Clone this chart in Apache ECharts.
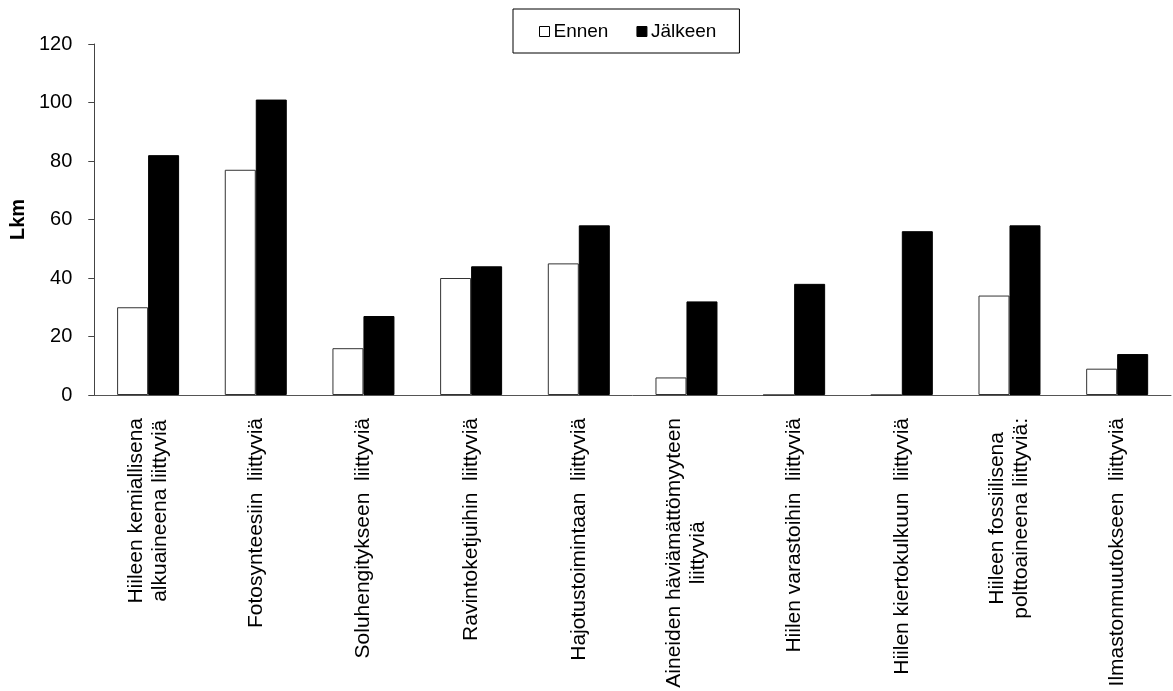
<!DOCTYPE html>
<html>
<head>
<meta charset="utf-8">
<script src="https://cdn.jsdelivr.net/npm/echarts@6/dist/echarts.min.js"></script>
<style>
html,body{margin:0;padding:0;background:#fff;}
#chart{width:1173px;height:691px;}
</style>
</head>
<body>
<div id="chart"></div>
<script>
const categories = [
  "Hiileen kemiallisena\nalkuaineena liittyviä",
  "Fotosynteesiin  liittyviä",
  "Soluhengitykseen  liittyviä",
  "Ravintoketjuihin  liittyviä",
  "Hajotustoimintaan  liittyviä",
  "Aineiden häviämättömyyteen\nliittyviä",
  "Hiilen varastoihin  liittyviä",
  "Hiilen kiertokulkuun  liittyviä",
  "Hiileen fossiilisena\npolttoaineena liittyviä:",
  "Ilmastonmuutokseen  liittyviä"
];
const seriesNames = ["Ennen", "Jälkeen"];
const ennen = [30, 77, 16, 40, 45, 6, 0, 0, 34, 9];
const jalkeen = [82, 101, 27, 44, 58, 32, 38, 56, 58, 14];
const yTicks = { min: 0, max: 120, interval: 20 };
const yName = "Lkm";

const FONT = "'Liberation Sans', Arial, sans-serif";
const chart = echarts.init(document.getElementById('chart'));
chart.setOption({
  backgroundColor: '#fff',
  animation: false,
  textStyle: { fontFamily: FONT, color: '#000' },
  legend: {
    left: 513, top: 9,
    padding: [13, 23, 12, 26],
    borderColor: '#000', borderWidth: 1,
    itemWidth: 10, itemHeight: 10, itemGap: 28,
    textStyle: { fontSize: 19, fontFamily: FONT, color: '#000', padding: [0, 0, 0, -1] },
    data: [
      { name: seriesNames[0], icon: 'rect', itemStyle: { color: '#fff', borderColor: '#000', borderWidth: 1 } },
      { name: seriesNames[1], icon: 'rect', itemStyle: { color: '#000', borderColor: '#000', borderWidth: 1 } }
    ]
  },
  grid: { left: 94, right: 2, top: 44, bottom: 296, containLabel: false },
  xAxis: {
    type: 'category',
    data: categories,
    axisLine: { lineStyle: { color: '#555', width: 1 } },
    axisTick: { show: false },
    axisLabel: {
      rotate: 90, interval: 0, margin: 23,
      color: '#000', fontSize: 21, fontFamily: FONT,
      formatter: function (v) { return v.split('\n').map(l => '{c|' + l + '}').join('\n'); },
      rich: { c: { align: 'center', fontSize: 21, lineHeight: 24, fontFamily: FONT, color: '#000' } }
    }
  },
  yAxis: {
    type: 'value',
    min: yTicks.min, max: yTicks.max, interval: yTicks.interval,
    name: yName, nameLocation: 'middle', nameRotate: 90, nameGap: 58,
    nameTextStyle: { fontSize: 20, fontWeight: 'bold', fontFamily: FONT, color: '#000' },
    axisLine: { show: true, lineStyle: { color: '#444', width: 1 } },
    axisTick: { show: true, length: 6, lineStyle: { color: '#444' } },
    splitLine: { show: false },
    axisLabel: { margin: 22, fontSize: 20, fontFamily: FONT, color: '#000' }
  },
  series: [
    { name: seriesNames[0], type: 'bar', data: ennen, barWidth: 31, barGap: '0%',
      itemStyle: { color: '#fff', borderColor: '#333', borderWidth: 1 } },
    { name: seriesNames[1], type: 'bar', data: jalkeen, barWidth: 31, barGap: '0%',
      itemStyle: { color: '#000', borderColor: '#000', borderWidth: 1 } }
  ]
});
</script>
</body>
</html>
